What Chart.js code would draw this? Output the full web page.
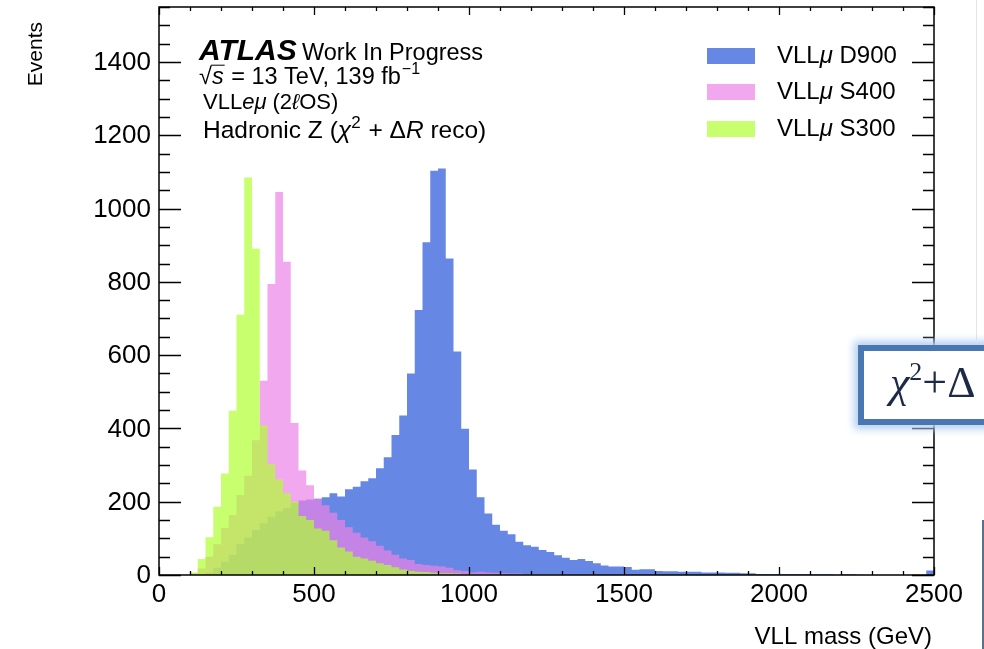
<!DOCTYPE html>
<html>
<head>
<meta charset="utf-8">
<script src="https://cdn.jsdelivr.net/npm/chart.js@4.4.1/dist/chart.umd.min.js"></script>
<style>
body { margin:0; background:#fff; overflow:hidden; width:984px; height:649px; position:relative; }
#cv { position:absolute; left:0; top:0; }
#slidebox { position:absolute; left:858px; top:345px; width:150px; height:68px; border:6px solid #4877b2;
  background:#fff; box-shadow:0 0 8px 4px #b3cff0; }
#slidebox span { position:absolute; left:26px; top:6px; font:44px "Liberation Serif", "DejaVu Serif", serif; color:#1c2a48; white-space:nowrap; }
#edge1 { position:absolute; left:982px; top:520px; width:2px; height:129px; background:#5b6f8c; }
#edge2 { position:absolute; left:976px; top:0; width:1px; height:340px; background:#e4e4e4; }
</style>
</head>
<body>
<canvas id="cv" width="984" height="649"></canvas>
<div id="edge2"></div>
<div id="slidebox"><span><i>χ</i><sup style="font-size:26px;vertical-align:17px;line-height:0">2</sup>+Δ</span></div>
<div id="edge1"></div>
<script>
// 25 GeV bins, 0 - 2500 GeV (low edges)
var massLow = [];
for (var i = 0; i < 100; i++) massLow.push(i * 25);

var d900 = [0,0,0,0,0,0,6,20,36,55, 84,102,123,141,159,173,183,197,203,206,
            208,212,223,214,234,241,256,264,291,321, 382,435,550,723,908,1103,1109,864,610,399,
            288,212,168,137,121,111,91,81,77,68, 63,54,47,41,44,38,32,26,23,23,
            22,14,16,16,11,10,10,9,9,9, 7,7,7,6,6,5,5,3,3,3,
            3,3,3,3,2,2,2,1,2,2, 1,0,0,0,0,0,0,0,0,12];
var s400 = [0,0,0,0,5,18,50,84,128,164, 218,271,368,530,794,1045,855,415,285,245,
            208,190,170,150,130,115,102,92,80,67, 55,45,41,30,27,25,23,20,13,11,
            7,9,7,6,5,4,4,3,3,2, 2,2,1,1,1,1,0,0,0,0,
            0,0,0,0,0,0,0,0,0,0, 0,0,0,0,0,0,0,0,0,0,
            0,0,0,0,0,0,0,0,0,0, 0,0,0,0,0,0,0,0,0,0];
var s300 = [0,0,0,0,7,44,103,186,277,448, 710,1085,890,408,302,261,223,200,161,150,
            127,121,95,75,64,50,45,39,32,27, 21,15,11,9,8,6,5,5,4,3,
            3,2,2,2,1,1,1,1,1,1, 1,1,1,1,1,1,1,0,0,0,
            0,0,0,0,0,0,0,0,0,0, 0,0,0,0,0,0,0,0,0,0,
            0,0,0,0,0,0,0,0,0,0, 0,0,0,0,0,0,0,0,0,0];

var seriesNames = ['VLLμ D900', 'VLLμ S400', 'VLLμ S300'];
var seriesColors = ['rgb(102,136,228)', 'rgba(236,131,231,0.7)', 'rgba(176,255,48,0.7)'];

var xTickValues = [0, 500, 1000, 1500, 2000, 2500];
var xTickLabels = ['0', '500', '1000', '1500', '2000', '2500'];
var yTickValues = [0, 200, 400, 600, 800, 1000, 1200, 1400];
var yTickLabels = ['0', '200', '400', '600', '800', '1000', '1200', '1400'];
var yMax = 1550;

var SANS = '"Liberation Sans", Arial, Helvetica, sans-serif';

function histPoints(vals) {
  var pts = [];
  for (var i = 0; i < vals.length; i++) pts.push({x: massLow[i], y: vals[i]});
  pts.push({x: 2500, y: vals[vals.length - 1]});
  return pts;
}

// draw a list of text runs: t text, i italic, b bold, sup superscript, gap extra px after
function drawRuns(ctx, x, y, runs, size) {
  for (var i = 0; i < runs.length; i++) {
    var r = runs[i];
    var fs = r.sup ? Math.round(size * 0.68) : size;
    ctx.font = (r.i ? 'italic ' : '') + (r.b ? 'bold ' : '') + fs + 'px ' + SANS;
    var yy = r.sup ? y - size * 0.42 : y;
    ctx.fillText(r.t, x, yy);
    var w = ctx.measureText(r.t).width;
    if (r.over) {
      ctx.beginPath(); ctx.lineWidth = 1;
      ctx.moveTo(x - 1, y - size * 0.8); ctx.lineTo(x + w + 1, y - size * 0.8); ctx.stroke();
    }
    x += w + (r.gap || 0);
  }
  return x;
}

var framePlugin = {
  id: 'rootFrame',
  afterDraw: function(chart) {
    var ctx = chart.ctx, a = chart.chartArea;
    var xs = chart.scales.x, ys = chart.scales.y;
    ctx.save();
    ctx.strokeStyle = '#000';
    ctx.fillStyle = '#000';
    ctx.lineWidth = 1.5;
    ctx.strokeRect(a.left, a.top, a.right - a.left, a.bottom - a.top);

    // ticks, inward on all four sides
    ctx.lineWidth = 1.3;
    ctx.beginPath();
    for (var v = 0; v <= yMax; v += 50) {
      var py = Math.round(ys.getPixelForValue(v)) + 0.5;
      var len = (v % 200 == 0) ? 22 : 11;
      ctx.moveTo(a.left, py); ctx.lineTo(a.left + len, py);
      ctx.moveTo(a.right, py); ctx.lineTo(a.right - len, py);
    }
    for (var m = 0; m <= 2500; m += 100) {
      var px = Math.round(xs.getPixelForValue(m)) + 0.5;
      var l2 = (m % 500 == 0) ? 8 : 4;
      ctx.moveTo(px, a.bottom); ctx.lineTo(px, a.bottom - l2);
      ctx.moveTo(px, a.top); ctx.lineTo(px, a.top + l2);
    }
    ctx.stroke();

    // tick labels
    ctx.font = '26px ' + SANS;
    ctx.textAlign = 'right'; ctx.textBaseline = 'middle';
    for (var i = 0; i < yTickValues.length; i++) {
      ctx.fillText(yTickLabels[i], a.left - 8, ys.getPixelForValue(yTickValues[i]) + 1);
    }
    ctx.textAlign = 'center'; ctx.textBaseline = 'alphabetic';
    for (var j = 0; j < xTickValues.length; j++) {
      ctx.fillText(xTickLabels[j], xs.getPixelForValue(xTickValues[j]), a.bottom + 27);
    }

    // axis titles
    ctx.font = '24px ' + SANS;
    ctx.textAlign = 'right';
    ctx.fillText('VLL mass (GeV)', a.right - 2, 644);
    ctx.save();
    ctx.translate(42, 22);
    ctx.rotate(-Math.PI / 2);
    ctx.font = '21px ' + SANS;
    ctx.fillText('Events', 0, 0);
    ctx.restore();

    // legend
    ctx.textAlign = 'left';
    var rows = [48, 84, 121];
    chart.data.datasets.forEach(function(ds, k) {
      ctx.fillStyle = ds.backgroundColor;
      ctx.fillRect(707, rows[k], 48, 16);
      ctx.fillStyle = '#000';
      var parts = ds.label.split('μ');
      drawRuns(ctx, 777, rows[k] + 15, [{t: parts[0]}, {t: 'μ', i: true}, {t: parts[1]}], 24);
    });

    // ATLAS label block
    ctx.font = 'italic bold 30px ' + SANS;
    ctx.fillText('ATLAS', 199, 60);
    ctx.font = '23.5px ' + SANS;
    ctx.fillText('Work In Progress', 302, 60);
    drawRuns(ctx, 199, 84, [{t: '√'}, {t: 's', i: true, over: true, gap: 1}, {t: ' = 13 TeV, 139 fb', gap: 1}, {t: '−1', sup: true}], 23.5);
    drawRuns(ctx, 203, 109, [{t: 'VLL'}, {t: 'eμ', i: true}, {t: ' (2'}, {t: 'ℓ', i: true}, {t: 'OS)'}], 22);
    drawRuns(ctx, 203, 138, [{t: 'Hadronic Z ('}, {t: 'χ', i: true}, {t: '2', sup: true, gap: 1}, {t: ' + Δ'}, {t: 'R', i: true}, {t: ' reco)'}], 24.5);
    ctx.restore();
  }
};

var ctx = document.getElementById('cv').getContext('2d');
var datasets = [];
var allSeries = [d900, s400, s300];
for (var k = 0; k < allSeries.length; k++) {
  datasets.push({
    label: seriesNames[k],
    data: histPoints(allSeries[k]),
    backgroundColor: seriesColors[k],
    borderColor: 'rgba(0,0,0,0)',
    borderWidth: 0,
    pointRadius: 0,
    stepped: true,
    fill: 'origin',
    order: 3 - k
  });
}

var chart = new Chart(ctx, {
  type: 'line',
  data: { datasets: datasets },
  options: {
    responsive: false,
    animation: false,
    devicePixelRatio: 1,
    layout: { padding: { left: 159, top: 7, right: 50, bottom: 74 } },
    scales: {
      x: { type: 'linear', min: 0, max: 2500, display: false },
      y: { type: 'linear', min: 0, max: yMax, display: false }
    },
    plugins: { legend: { display: false }, tooltip: { enabled: false } }
  },
  plugins: [framePlugin]
});
</script>
</body>
</html>
